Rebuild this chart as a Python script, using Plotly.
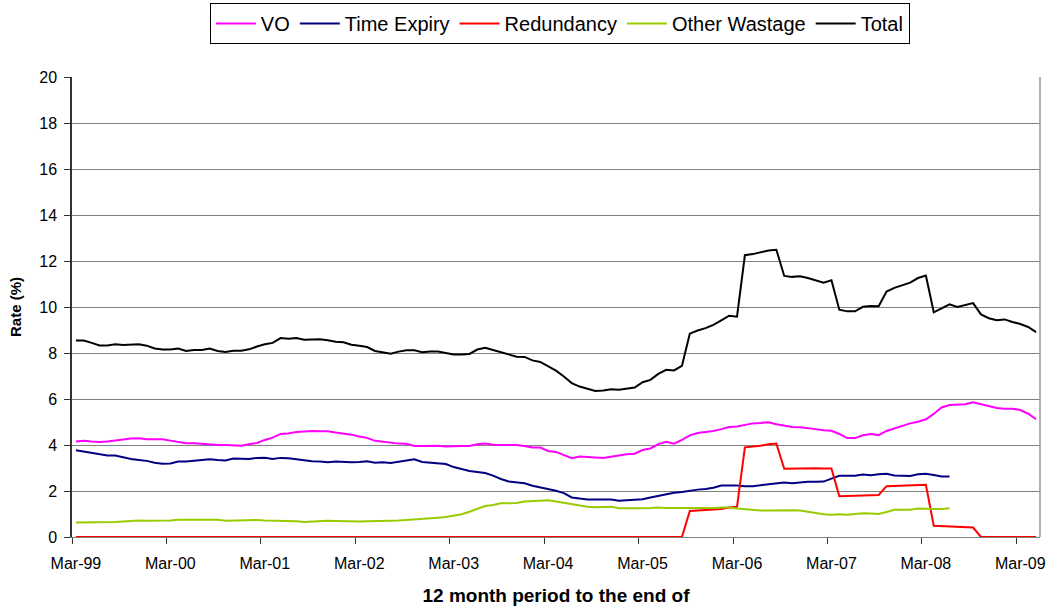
import pandas as pd
import plotly.graph_objects as go

# Monthly categories, Mar-99 .. May-09 (12 month period to the end of)
months = list(pd.date_range("1999-03-01", periods=123, freq="MS").strftime("%b-%y"))

total = [
    8.54, 8.54, 8.44, 8.33, 8.33, 8.38, 8.35, 8.35, 8.38, 8.32,
    8.20, 8.15, 8.15, 8.19, 8.09, 8.13, 8.13, 8.19, 8.09, 8.04,
    8.10, 8.10, 8.16, 8.28, 8.38, 8.44, 8.65, 8.62, 8.65, 8.58,
    8.60, 8.60, 8.55, 8.49, 8.47, 8.36, 8.32, 8.26, 8.09, 8.04,
    7.97, 8.06, 8.12, 8.12, 8.03, 8.06, 8.06, 8.00, 7.94, 7.93,
    7.96, 8.15, 8.23, 8.13, 8.04, 7.94, 7.84, 7.83, 7.68, 7.61,
    7.42, 7.23, 6.98, 6.69, 6.54, 6.44, 6.35, 6.37, 6.42, 6.40,
    6.45, 6.50, 6.73, 6.83, 7.09, 7.27, 7.24, 7.44, 8.84, 8.98,
    9.08, 9.22, 9.42, 9.62, 9.58, 12.25, 12.30, 12.38, 12.46, 12.49,
    11.35, 11.31, 11.34, 11.26, 11.16, 11.06, 11.16, 9.88, 9.81, 9.81,
    10.01, 10.04, 10.03, 10.67, 10.83, 10.96, 11.06, 11.26, 11.37, 9.77,
    9.96, 10.12, 10.00, 10.10, 10.17, 9.68, 9.51, 9.42, 9.46, 9.35,
    9.26, 9.13, 8.91,
]

vo = [
    4.15, 4.18, 4.15, 4.13, 4.15, 4.20, 4.25, 4.28, 4.29, 4.25,
    4.25, 4.25, 4.19, 4.15, 4.08, 4.08, 4.05, 4.03, 4.00, 4.00,
    3.99, 3.97, 4.03, 4.09, 4.22, 4.32, 4.48, 4.50, 4.57, 4.60,
    4.61, 4.60, 4.60, 4.54, 4.51, 4.45, 4.37, 4.31, 4.18, 4.13,
    4.08, 4.06, 4.05, 3.96, 3.96, 3.97, 3.97, 3.94, 3.96, 3.96,
    3.96, 4.03, 4.06, 4.01, 4.00, 4.01, 4.00, 3.96, 3.89, 3.89,
    3.74, 3.70, 3.58, 3.43, 3.50, 3.47, 3.44, 3.44, 3.49, 3.56,
    3.60, 3.62, 3.78, 3.85, 4.04, 4.14, 4.06, 4.22, 4.42, 4.52,
    4.56, 4.61, 4.69, 4.78, 4.80, 4.88, 4.94, 4.96, 4.99, 4.90,
    4.83, 4.78, 4.77, 4.74, 4.69, 4.64, 4.62, 4.48, 4.30, 4.30,
    4.42, 4.48, 4.43, 4.61, 4.72, 4.80, 4.94, 5.01, 5.12, 5.35,
    5.63, 5.74, 5.76, 5.77, 5.86, 5.77, 5.67, 5.61, 5.58, 5.58,
    5.52, 5.36, 5.12,
]

time_expiry = [
    3.77, 3.71, 3.67, 3.58, 3.54, 3.54, 3.45, 3.39, 3.35, 3.31,
    3.23, 3.19, 3.20, 3.28, 3.28, 3.31, 3.33, 3.38, 3.35, 3.33,
    3.41, 3.39, 3.39, 3.44, 3.45, 3.39, 3.44, 3.42, 3.38, 3.32,
    3.29, 3.28, 3.25, 3.28, 3.26, 3.25, 3.26, 3.29, 3.23, 3.25,
    3.22, 3.28, 3.35, 3.38, 3.26, 3.23, 3.19, 3.17, 3.04, 2.96,
    2.87, 2.83, 2.78, 2.67, 2.52, 2.41, 2.38, 2.34, 2.23, 2.16,
    2.10, 2.01, 1.91, 1.72, 1.67, 1.63, 1.63, 1.63, 1.63, 1.58,
    1.61, 1.63, 1.64, 1.72, 1.79, 1.85, 1.92, 1.96, 2.02, 2.06,
    2.09, 2.14, 2.24, 2.25, 2.24, 2.21, 2.21, 2.25, 2.28, 2.31,
    2.37, 2.34, 2.38, 2.40, 2.40, 2.41, 2.54, 2.66, 2.66, 2.66,
    2.72, 2.69, 2.73, 2.75, 2.67, 2.67, 2.65, 2.73, 2.75, 2.70,
    2.63, 2.63,
]

redundancy = [
    0, 0, 0, 0, 0, 0, 0, 0, 0, 0,
    0, 0, 0, 0, 0, 0, 0, 0, 0, 0,
    0, 0, 0, 0, 0, 0, 0, 0, 0, 0,
    0, 0, 0, 0, 0, 0, 0, 0, 0, 0,
    0, 0, 0, 0, 0, 0, 0, 0, 0, 0,
    0, 0, 0, 0, 0, 0, 0, 0, 0, 0,
    0, 0, 0, 0, 0, 0, 0, 0, 0, 0,
    0, 0, 0, 0, 0, 0, 0, 0, 1.13, 1.15,
    1.16, 1.19, 1.22, 1.28, 1.31, 3.90, 3.92, 3.97, 4.03, 4.06,
    2.97, 2.98, 2.99, 2.99, 2.99, 2.98, 2.98, 1.77, 1.78, 1.80,
    1.80, 1.81, 1.83, 2.21, 2.22, 2.22, 2.24, 2.25, 2.27, 0.49,
    0.48, 0.46, 0.44, 0.42, 0.41, 0, 0, 0, 0, 0,
    0, 0, 0,
]

other_wastage = [
    0.63, 0.63, 0.63, 0.64, 0.65, 0.65, 0.67, 0.70, 0.72, 0.71,
    0.71, 0.71, 0.72, 0.75, 0.75, 0.75, 0.75, 0.75, 0.75, 0.71,
    0.72, 0.72, 0.74, 0.74, 0.72, 0.71, 0.71, 0.71, 0.68, 0.65,
    0.67, 0.70, 0.71, 0.70, 0.68, 0.67, 0.67, 0.68, 0.68, 0.68,
    0.71, 0.72, 0.74, 0.75, 0.78, 0.81, 0.84, 0.87, 0.93, 0.99,
    1.10, 1.23, 1.35, 1.39, 1.47, 1.47, 1.48, 1.54, 1.57, 1.60,
    1.60, 1.54, 1.48, 1.41, 1.35, 1.32, 1.29, 1.29, 1.31, 1.25,
    1.24, 1.25, 1.25, 1.26, 1.28, 1.26, 1.26, 1.26, 1.26, 1.24,
    1.25, 1.26, 1.28, 1.28, 1.24, 1.21, 1.16, 1.15, 1.15, 1.16,
    1.16, 1.16, 1.15, 1.09, 1.05, 0.99, 0.97, 0.99, 0.97, 1.00,
    1.03, 1.02, 1.00, 1.09, 1.18, 1.19, 1.19, 1.24, 1.22, 1.22,
    1.22, 1.25,
]

series = [
    ("VO", vo, "#FF00FF"),
    ("Time Expiry", time_expiry, "#000080"),
    ("Redundancy", redundancy, "#FF0000"),
    ("Other Wastage", other_wastage, "#99CC00"),
    ("Total", total, "#000000"),
]

FONT = "Arial, Liberation Sans, sans-serif"

fig = go.Figure()
for name, vals, col in series:
    fig.add_trace(go.Scatter(
        x=months[:len(vals)], y=vals, name=name, mode="lines",
        line=dict(color=col, width=2),
    ))

fig.update_layout(
    width=1051, height=608,
    margin=dict(l=72, r=11, t=77, b=71, autoexpand=False),
    paper_bgcolor="white", plot_bgcolor="white",
    font=dict(family=FONT, size=16, color="black"),
    showlegend=True,
    legend=dict(
        orientation="h", x=0.504, xanchor="center", y=1.161, yanchor="top",
        bordercolor="black", borderwidth=1, bgcolor="white",
        font=dict(family=FONT, size=20, color="black"),
        itemwidth=40, tracegroupgap=0,
    ),
    xaxis=dict(
        type="category", categoryorder="array", categoryarray=months,
        range=[-0.5, len(months) - 0.5],
        tickmode="linear", tick0=0, dtick=12, tickson="boundaries",
        tickangle=0,
        ticks="outside", ticklen=6, tickcolor="#333333", tickwidth=1,
        ticklabelstandoff=12,
        showgrid=False, showline=True, linecolor="#808080", linewidth=1,
        tickfont=dict(size=16), zeroline=False,
        title=dict(text="<b>12 month period to the end of</b>", font=dict(size=19), standoff=17),
    ),
    yaxis=dict(
        range=[0, 20], dtick=2, tick0=0,
        ticks="outside", ticklen=6, tickcolor="#333333",
        ticklabelstandoff=4,
        showgrid=True, gridcolor="#808080", gridwidth=1,
        showline=True, linecolor="#333333", linewidth=1.5,
        zeroline=False, tickfont=dict(size=16),
        title=dict(text="<b>Rate (%)</b>", font=dict(size=15), standoff=14),
    ),
    shapes=[dict(type="line", xref="paper", yref="paper", x0=1, x1=1, y0=0, y1=1,
                 line=dict(color="#999999", width=1.5))],
)

fig.write_html("out.html", config={"displayModeBar": False},
               post_script="document.body.style.margin='0';")
